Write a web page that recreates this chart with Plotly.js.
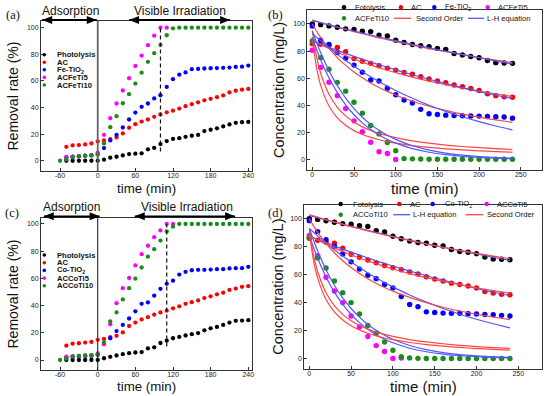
<!DOCTYPE html>
<html>
<head>
<meta charset="utf-8">
<script src="https://cdn.plot.ly/plotly-3.0.1.min.js"></script>
<style>html,body{margin:0;padding:0;background:#fff;}#chart{width:550px;height:396px;}</style>
</head>
<body>
<div id="chart"></div>
<script>
// ---------- DATA ----------
// Panels (a) and (c): removal rate (%) vs time (min)
const timeRemoval = [-60,-50,-40,-30,-20,-10,0,10,20,30,40,50,60,70,80,90,100,110,120,130,140,150,160,170,180,190,200,210,220,230,240];
const removalTickVals = [-60,0,60,120,180,240];
const removalTickText = ['-60','0','60','120','180','240'];
const percentTicks = [0,20,40,60,80,100];

const namesA = ['Photolysis','AC','Fe-TiO<sub>2</sub>','ACFeTi5','ACFeTi10'];
const photolysisA = [null,0,0,0,0,0,0,0.8,2.3,3,4,5,5.3,5.6,8.6,9.6,12.5,14.8,16.4,17,18,18.8,19.4,22.3,23.3,24.4,25.8,27.3,28.5,29,29.2];
const acA        = [null,10.5,11.5,11.8,12.3,13,14.5,15.3,16.2,17.5,20.5,24.8,27.5,29.4,31,33,34.8,36.4,37.6,39.2,41,42.5,43.9,45.4,46.5,47.8,49.1,51.3,52.6,53.4,54];
const feTiO2A    = [null,2.5,3,3.3,3.8,4,5.2,9.5,15.3,19.5,25,31,36.2,40.5,43,46.8,49.2,55.5,61.3,64.7,66.4,68.8,69,69.3,69.5,69.6,69.8,70,70.5,70.7,71.5];
const acFeTi5A   = [null,2.8,3,3.4,3.7,4,6,19.5,32,43,52.8,62,71.2,79,86.8,94,100,100,null,null,null,null,null,null,null,null,null,null,null,null,null];
const acFeTi10A  = [0,1,2.5,3.3,3.8,4.2,4.5,13,25.2,33.5,43.2,50,58,66.2,74.3,80.8,87,94.3,99.5,100,100,100,100,100,100,100,100,100,100,100,100];

const namesC = ['Photolysis','AC','Co-TiO<sub>2</sub>','ACCoTi5','ACCoTi10'];
const photolysisC = [null,0,0,0,0,0,0,1.3,2.3,3.3,4.3,5,5.5,5.8,8.5,9.3,12.5,14.2,16,17,18,19,19.8,21.8,23.3,24.3,25.8,27.5,28.8,29,29.3];
const acC        = [null,10.5,12,12.3,12.8,13.3,14.8,15.5,16.8,17.8,20.3,25,27.5,29.8,31.5,33.3,35,36.3,38,39.5,41.3,42.5,43.8,45.5,46.8,48.3,49.5,51.5,52.5,53.8,54.3];
const coTiO2C    = [null,1.8,2.3,2.5,2.8,3,3.8,11.8,16,21.3,25.8,30.5,35.8,41.3,42.3,47.3,52.3,56,58.3,62.8,64.8,66,66.3,66.3,66.5,66.8,66.8,67.3,67.5,67.5,68.5];
const acCoTi5C   = [null,2.5,2.8,3,3.3,3.5,4.8,11.5,26.3,41.8,52.8,60.3,69.5,77.8,84,90.3,95.3,100,100,null,null,null,null,null,null,null,null,null,null,null,null];
const acCoTi10C  = [0,1,2.5,3,3.3,3.5,4,13,28.3,35,44.5,52.8,59.8,68,76,81.5,87.8,94.5,98,100,100,100,100,100,100,100,100,100,100,100,100];

// Panels (b) and (d): concentration (mg/L) vs time (min)
const timeConc = [0,10,20,30,40,50,60,70,80,90,100,110,120,130,140,150,160,170,180,190,200,210,220,230,240];
const concTickX = [0,50,100,150,200,250];

const namesB = ['Fotolysis','AC','Fe-TiO<sub>2</sub>','ACFeTi5','ACFeTi10'];
const fotolysisB = [100,99.5,98.6,97.6,96.4,96,94.6,94.4,91.8,91.1,88.1,86.3,84.9,84,83.3,82,81.3,78.2,77.2,76,75.1,73.1,71.5,71.3,71];
const acB        = [85.5,85,84.3,82.7,79.5,74.5,72.5,71,69.2,67.5,66,64.3,63,61.2,59.5,58,56.7,55,53.7,52.5,51,48.6,47.2,46.3,46];
const feTiO2B    = [98.5,88,85,79,74.8,69.7,64.5,58.7,58,52.6,47.8,44,41.8,37.1,33.9,33.3,32.8,32.5,32.4,32.2,32.1,31.8,31.6,31.4,30.6];
const acFeTi5B   = [80.6,68,57.1,47.2,37.7,28.6,20.6,12.9,5.8,4.6,0.2,null,null,null,null,null,null,null,null,null,null,null,null,null,null];
const acFeTi10B  = [87.5,75.2,66.6,57,50.5,42.3,34.3,25.2,19,12.7,6.6,0.8,0.6,0.5,0.3,0.3,0.3,0.3,0.3,0.3,0.3,0.3,0.3,0.3,0.3];

const namesD = ['Fotolysis','AC','Co-TiO<sub>2</sub>','ACCoTi5','ACCoTi10'];
const fotolysisD = [100,99.5,98.5,97.5,96.5,96,95,94.5,91.5,90.5,87.5,85.7,84,83,82.5,81,80.5,78,76.6,76,75,72.7,71.2,71,70.7];
const acD        = [86,84.6,83.2,82.5,79,74.6,72.5,70.5,68.6,66.6,65,63.5,62,60.5,58.6,57,55.5,54,53,52,50.5,48,47,46,45.7];
const coTiO2D    = [98.6,90.8,85,80.2,74.8,69.2,64,59.7,57.2,53,50.6,44.5,38.7,37.2,33.5,33,32.6,32.5,32.5,32.1,32,31.6,31.5,31,30.5];
const acCoTi5D   = [88,73.5,58.2,48.4,40.1,30.5,22.7,15.9,9.4,5.2,0.2,0.5,null,null,null,null,null,null,null,null,null,null,null,null,null];
const acCoTi10D  = [86.5,72,64.8,55.5,47.2,40.1,32,23.7,18.2,12,6.1,1.4,0.6,0.3,0.2,0.2,0.2,0.2,0.2,0.2,0.2,0.2,0.2,0.2,0.2];

// Fitted curves (b) and (d)
const timeFit = [0,5,10,20,30,40,50,60,70,80,90,100,120,140,160,180,200,220,240];
const soFotoB  = [103,102,101.1,99.3,97.6,96,94.3,92.8,91.3,89.8,88.4,87,84.4,81.9,79.6,77.4,75.3,73.4,71.5];
const lhFotoB  = [102.5,101.7,100.9,99.3,97.8,96.3,94.8,93.3,91.9,90.4,89,87.7,85,82.4,79.9,77.5,75.1,72.8,70.5];
const soAcB    = [88,86.4,84.8,81.9,79.2,76.6,74.2,71.9,69.8,67.8,65.9,64.1,60.8,57.9,55.2,52.7,50.5,48.4,46.5];
const lhAcB    = [87.5,86.3,85.1,82.8,80.5,78.3,76.1,74,72,70,68.1,66.2,62.6,59.3,56.1,53.1,50.2,47.5,45];
const soFeB    = [100,94.8,90.1,82,75.2,69.5,64.6,60.3,56.5,53.2,50.3,47.7,43.1,39.4,36.3,33.6,31.3,29.3,27.5];
const lhFeB    = [93,90.3,87.6,82.5,77.6,73.1,68.9,64.9,61.1,57.5,54.2,51,45.3,40.1,35.6,31.6,28,24.8,22];
const soTi5B   = [90,68.2,54.9,39.5,30.8,25.3,21.4,18.6,16.4,14.7,13.3,12.2,10.4,9,8,7.2,6.5,6,5.5];
const lhTi5B   = [90,81.4,73.7,60.3,49.4,40.4,33.1,27.1,22.2,18.2,14.9,12.2,8.2,5.5,3.7,2.5,1.65,1.1,0.74];
const soTi10B  = [95,76.4,63.9,48.2,38.6,32.3,27.7,24.2,21.6,19.4,17.7,16.2,13.9,12.2,10.8,9.7,8.9,8.1,7.5];
const lhTi10B  = [95,86.6,79,65.6,54.6,45.4,37.7,31.3,26,21.6,18,15,10.3,7.1,4.9,3.4,2.3,1.6,1.1];

const soFotoD  = [103,102,101.1,99.3,97.6,96,94.3,92.8,91.3,89.8,88.4,87,84.4,81.9,79.6,77.4,75.3,73.3,71.4];
const lhFotoD  = [102.3,101.5,100.7,99.1,97.6,96.1,94.6,93.1,91.7,90.2,88.8,87.4,84.7,82.1,79.6,77.2,74.8,72.5,70.3];
const soAcD    = [88,86.4,84.8,81.9,79.2,76.6,74.2,71.9,69.8,67.8,65.9,64.1,60.8,57.9,55.3,52.9,50.7,48.6,46.7];
const lhAcD    = [87.5,86.3,85.1,82.8,80.5,78.3,76.1,74,72,70,68.1,66.2,62.6,59.3,56.1,53.1,50.2,47.5,45];
const soCoD    = [100,94.9,90.3,82.4,75.7,70,65.1,60.9,57.1,53.8,50.9,48.3,43.8,40,36.8,34.1,31.8,29.8,28];
const lhCoD    = [93,90.3,87.7,82.6,77.8,73.3,69.1,65.1,61.3,57.8,54.4,51.3,45.5,40.4,35.9,31.8,28.2,25,22.1];
const soTi5D   = [90,70.2,57.6,42.3,33.5,27.7,23.6,20.6,18.2,16.3,14.8,13.6,11.6,10.1,9,8.1,7.3,6.7,6.2];
const lhTi5D   = [88,79.4,71.7,58.4,47.6,38.8,31.6,25.8,21,17.1,13.9,11.4,7.5,5,3.3,2.2,1.45,0.96,0.64];
const soTi10D  = [92,74.3,62.3,47.1,37.9,31.7,27.2,23.8,21.2,19.1,17.4,16,13.7,12,10.7,9.6,8.7,8,7.4];
const lhTi10D  = [93,84.6,76.9,63.6,52.5,43.4,35.9,29.7,24.5,20.3,16.8,13.9,9.5,6.5,4.4,3,2.1,1.4,1];

// Axis titles
const xTitle = 'time (min)';
const yTitleRemoval = 'Removal rate (%)';
const yTitleConc = 'Concentration (mg/L)';

// Reference times (adsorption end / irradiation marker)
const adsorptionEnd = 0;
const irradiationMarkA = 100;
const irradiationMarkC = 110;

// ---------- STYLE ----------
const W = 550, H = 396;
const FONT = 'Arial, "Liberation Sans", sans-serif';
const colors = ['#000000','#ff0000','#0000ff','#ff00ff','#1a8c1a'];
const fitRed = 'rgb(255,70,70)', fitBlue = 'rgb(85,85,255)';
const px = v => v / W, py = v => 1 - v / H;

const traces = [];
function addPoints(xs, series, xa, ya, size) {
  series.forEach((s, i) => traces.push({
    x: xs, y: s, xaxis: xa, yaxis: ya, type: 'scatter', mode: 'markers',
    marker: {color: colors[i], size: size, line: {width: 0}}, showlegend: false, hoverinfo: 'x+y'
  }));
}
function addFits(list, color, xa, ya) {
  list.forEach(s => traces.push({
    x: timeFit, y: s, xaxis: xa, yaxis: ya, type: 'scatter', mode: 'lines',
    line: {color: color, width: 1.2, shape: 'spline', smoothing: 0.6}, showlegend: false, hoverinfo: 'skip'
  }));
}
addPoints(timeRemoval, [photolysisA, acA, feTiO2A, acFeTi5A, acFeTi10A], 'x', 'y', 4.3);
addPoints(timeConc, [fotolysisB, acB, feTiO2B, acFeTi5B, acFeTi10B], 'x2', 'y2', 5.4);
addFits([soFotoB, soAcB, soFeB, soTi5B, soTi10B], fitRed, 'x2', 'y2');
addFits([lhFotoB, lhAcB, lhFeB, lhTi5B, lhTi10B], fitBlue, 'x2', 'y2');
addPoints(timeRemoval, [photolysisC, acC, coTiO2C, acCoTi5C, acCoTi10C], 'x3', 'y3', 4.3);
addPoints(timeConc, [fotolysisD, acD, coTiO2D, acCoTi5D, acCoTi10D], 'x4', 'y4', 5.4);
addFits([lhFotoD, lhAcD, lhCoD, lhTi5D, lhTi10D], fitBlue, 'x4', 'y4');
addFits([soFotoD, soAcD, soCoD, soTi5D, soTi10D], fitRed, 'x4', 'y4');

function axis(extra) {
  return Object.assign({
    showline: true, mirror: true, linecolor: '#333', linewidth: 1,
    ticks: 'inside', ticklen: 3, tickwidth: 1, tickcolor: '#333',
    showgrid: false, zeroline: false, automargin: false, fixedrange: true,
    tickfont: {family: FONT, size: 7, color: '#222'}
  }, extra);
}

const layout = {
  width: W, height: H, margin: {l: 0, r: 0, t: 0, b: 0},
  paper_bgcolor: '#fff', plot_bgcolor: '#fff', showlegend: false,
  xaxis: axis({domain: [px(41), px(252)], range: [-90.4, 245.9], anchor: 'y', tickvals: removalTickVals, ticktext: removalTickText, ticklabelstandoff: -2}),
  yaxis: axis({domain: [py(171), py(21)], range: [-7.7, 105], anchor: 'x', tickvals: percentTicks}),
  xaxis2: axis({domain: [px(307.3), px(542)], range: [-6, 275.4], anchor: 'y2', tickvals: concTickX, ticklabelstandoff: -2}),
  yaxis2: axis({domain: [py(170), py(10)], range: [-7.6, 110.3], anchor: 'x2', tickvals: percentTicks}),
  xaxis3: axis({domain: [px(41), px(252)], range: [-90.4, 245.9], anchor: 'y3', tickvals: removalTickVals, ticktext: removalTickText, ticklabelstandoff: -2}),
  yaxis3: axis({domain: [py(370), py(218)], range: [-7.35, 104.4], anchor: 'x3', tickvals: percentTicks}),
  xaxis4: axis({domain: [px(304.3), px(541.7)], range: [-6, 278], anchor: 'y4', tickvals: concTickX, ticklabelstandoff: -2}),
  yaxis4: axis({domain: [py(368.7), py(204.7)], range: [-7.1, 110], anchor: 'x4', tickvals: percentTicks}),
  shapes: [], annotations: []
};

// reference lines
layout.shapes.push(
  {type: 'line', xref: 'x', yref: 'y domain', x0: adsorptionEnd, x1: adsorptionEnd, y0: 0, y1: 1, line: {color: '#666', width: 1.8}},
  {type: 'line', xref: 'x', yref: 'y', x0: irradiationMarkA, x1: irradiationMarkA, y0: 7, y1: 100, line: {color: '#111', width: 1.2, dash: '4px,3px'}},
  {type: 'line', xref: 'x3', yref: 'y3 domain', x0: adsorptionEnd, x1: adsorptionEnd, y0: 0, y1: 1, line: {color: '#111', width: 1}},
  {type: 'line', xref: 'x3', yref: 'y3', x0: irradiationMarkC, x1: irradiationMarkC, y0: 10, y1: 100, line: {color: '#111', width: 1.2, dash: '4px,3px'}}
);

// double-headed arrows drawn as shapes (shaft + two pixel-sized heads)
function dblArrow(xref, xLeft, xRight, yPix) {
  const yp = py(yPix);
  layout.shapes.push({type: 'line', xref: xref, yref: 'paper', x0: xLeft, x1: xRight, y0: yp, y1: yp, line: {color: '#000', width: 1.8}});
  layout.shapes.push({type: 'path', xref: xref, yref: 'paper', xsizemode: 'pixel', ysizemode: 'pixel', xanchor: xLeft, yanchor: yp,
    path: 'M0,0 L10,4 L10,-4 Z', fillcolor: '#000', line: {width: 0}});
  layout.shapes.push({type: 'path', xref: xref, yref: 'paper', xsizemode: 'pixel', ysizemode: 'pixel', xanchor: xRight, yanchor: yp,
    path: 'M0,0 L-10,4 L-10,-4 Z', fillcolor: '#000', line: {width: 0}});
}
function txt(xPix, yPix, text, size, anchor, fam, bold, angle) {
  layout.annotations.push({xref: 'paper', yref: 'paper', x: px(xPix), y: py(yPix), xanchor: anchor, yanchor: 'middle',
    text: bold ? '<b>' + text + '</b>' : text, showarrow: false, textangle: angle || 0, borderpad: 0,
    font: {family: fam || FONT, size: size, color: '#111'}});
}
dblArrow('x', -88.5, -1.5, 20);
dblArrow('x', 50, 211, 20);
dblArrow('x3', -86, 3, 216.3);
dblArrow('x3', 59, 219, 216.3);
txt(70.5, 11, 'Adsorption', 12, 'center');
txt(180, 11, 'Visible Irradiation', 12, 'center');
txt(71.7, 206.5, 'Adsorption', 12, 'center');
txt(186.7, 206.5, 'Visible Irradiation', 12, 'center');

// axis titles
txt(146.5, 188.8, xTitle, 13.3, 'center');
txt(424.7, 188.8, xTitle, 15.2, 'center');
txt(146.5, 386, xTitle, 13.3, 'center');
txt(423, 386, xTitle, 15, 'center');
txt(12.5, 96, yTitleRemoval, 14, 'center', null, false, -90);
txt(12.5, 294, yTitleRemoval, 14, 'center', null, false, -90);
txt(279, 90, yTitleConc, 14.5, 'center', null, false, -90);
txt(278, 286.7, yTitleConc, 14.5, 'center', null, false, -90);

// panel labels
const SERIF = '"Liberation Serif", "Times New Roman", serif';
txt(13.3, 15, '(a)', 12.5, 'center', SERIF);
txt(275.5, 15, '(b)', 12.5, 'center', SERIF);
txt(12, 213, '(c)', 12.5, 'center', SERIF);
txt(275.5, 213, '(d)', 12.5, 'center', SERIF);

// custom legends
function dot(cx, cy, r, color) {
  layout.shapes.push({type: 'circle', xref: 'paper', yref: 'paper', x0: px(cx - r), x1: px(cx + r), y0: py(cy + r), y1: py(cy - r),
    fillcolor: color, line: {width: 0}});
}
function seg(x0, x1, y, color) {
  layout.shapes.push({type: 'line', xref: 'paper', yref: 'paper', x0: px(x0), x1: px(x1), y0: py(y), y1: py(y), line: {color: color, width: 1.3}});
}
const rowsA = [54.7, 62.2, 69.8, 77.4, 85];
namesA.forEach((n, i) => { dot(44.3, rowsA[i], 1.8, colors[i]); txt(55.5, rowsA[i], n, 7.6, 'left', FONT, true); });
const rowsC = [255, 262.7, 270.4, 278.1, 285.8];
namesC.forEach((n, i) => { dot(44.3, rowsC[i], 1.8, colors[i]); txt(55.5, rowsC[i], n, 7.6, 'left', FONT, true); });

const legBx = [344, 401, 434.3, 487.7], legBt = [355, 411, 445, 497.7];
[0,1,2,3].forEach(i => { dot(legBx[i], 7.3, 2.2, colors[i]); txt(legBt[i] - 1, 7.3, namesB[i], 7.6, 'left'); });
dot(344, 18.3, 2.2, colors[4]); txt(354, 18.3, namesB[4], 7.6, 'left');
seg(394, 411, 18.3, fitRed); txt(415, 18.3, 'Second Order', 7.6, 'left');
seg(468, 484, 18.3, fitBlue); txt(486, 18.3, 'L-H equation', 7.6, 'left');

const legDx = [340.7, 399.3, 432.7, 486.7], legDt = [353.3, 410, 445, 496.7];
[0,1,2,3].forEach(i => { dot(legDx[i], 204, 2.2, colors[i]); txt(legDt[i] - 1, 204, namesD[i], 7.6, 'left'); });
dot(340.7, 214.7, 2.2, colors[4]); txt(352.3, 214.7, namesD[4], 7.6, 'left');
seg(393.3, 410, 214.7, fitBlue); txt(412.3, 214.7, 'L-H equation', 7.6, 'left');
seg(465.7, 483.3, 214.7, fitRed); txt(485.7, 214.7, 'Second Order', 7.6, 'left');

Plotly.newPlot('chart', traces, layout, {staticPlot: true, displayModeBar: false});
</script>
</body>
</html>
